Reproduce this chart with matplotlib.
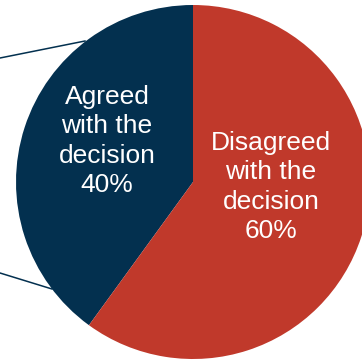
import matplotlib
matplotlib.use("Agg")
import matplotlib.pyplot as plt

plt.rcParams['font.family'] = ['Liberation Sans', 'DejaVu Sans']

# shares of responses
labels = ['Agreed\nwith the\ndecision', 'Disagreed\nwith the\ndecision']
shares = [40, 60]
colors = ['#03304F', '#C0392B']

W, H = 362, 360
fig = plt.figure(figsize=(W / 100, H / 100), dpi=100)
ax = fig.add_axes([0, 0, 1, 1])

cx, cy, r = 193, H - 182, 177
ax.pie(shares, colors=colors, startangle=90, counterclock=True,
       center=(cx, cy), radius=r, frame=True,
       wedgeprops=dict(linewidth=0))
ax.set_xlim(0, W)
ax.set_ylim(0, H)
ax.set_aspect('equal')
ax.axis('off')

# connector lines running off to the left
ax.plot([0, 85], [H - 58, H - 41], color='#03304F', lw=1.1)
ax.plot([0, 52], [H - 273, H - 289], color='#03304F', lw=1.1)

label_pos = [(107, H - 141), (271, H - 187)]
for lab, val, (x, y) in zip(labels, shares, label_pos):
    ax.text(x, y, f'{lab}\n{val}%', color='white', fontsize=19,
            ha='center', va='center', linespacing=1.27)

fig.savefig('out.png', dpi=100)
